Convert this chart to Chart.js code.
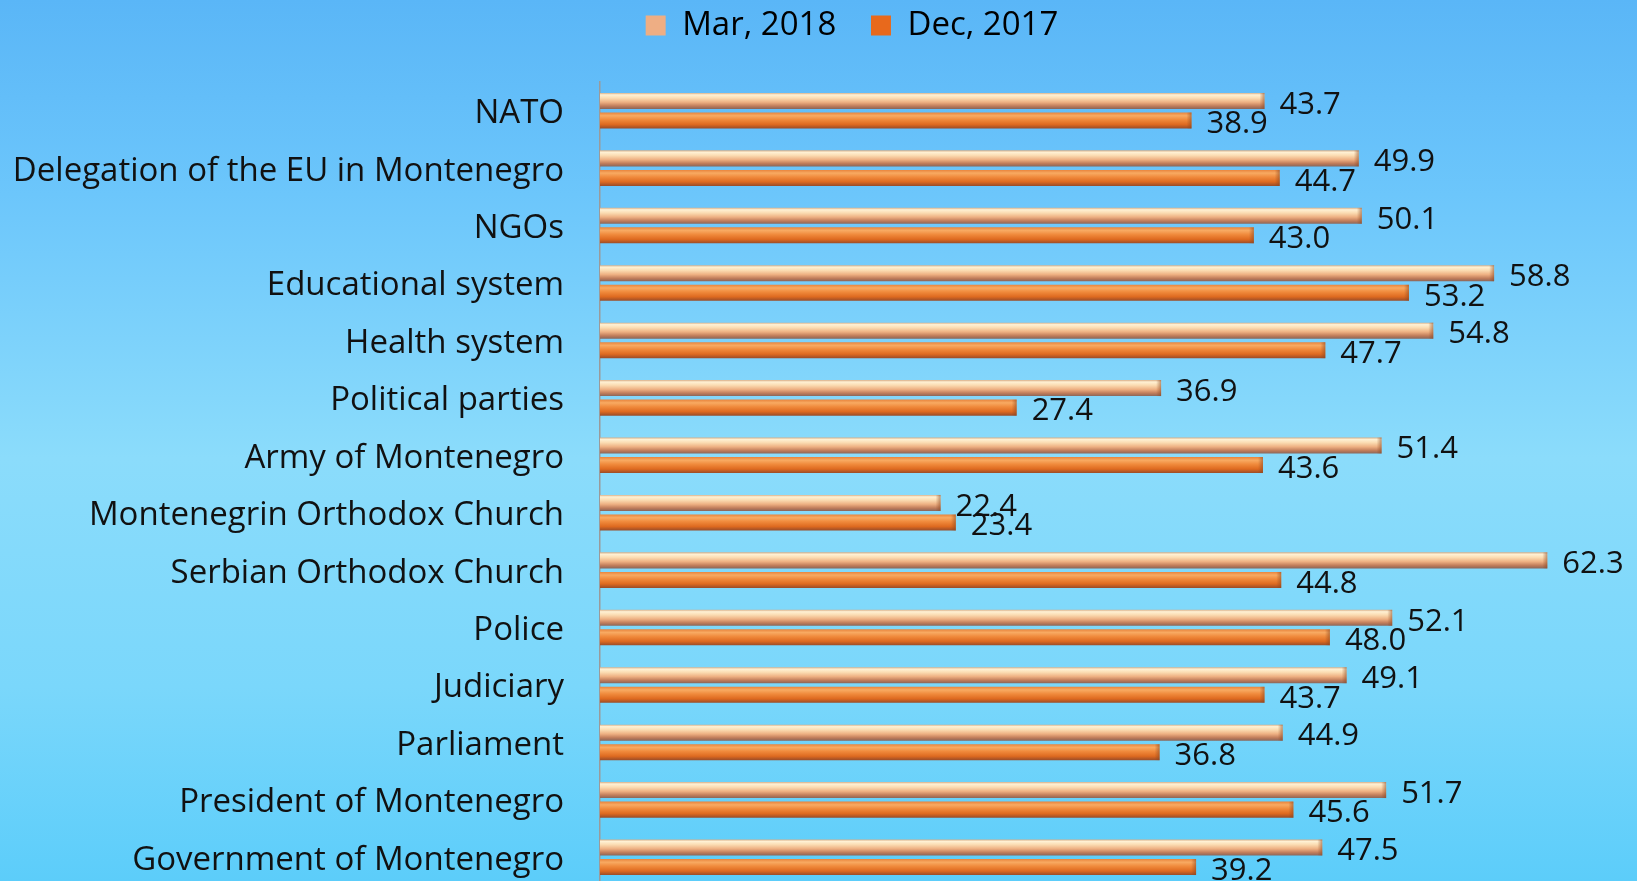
<!DOCTYPE html>
<html><head><meta charset="utf-8">
<script src="https://cdn.jsdelivr.net/npm/chart.js@4/dist/chart.umd.min.js"></script>
<style>
html,body{margin:0;padding:0;width:1637px;height:881px;overflow:hidden;}
body{background:linear-gradient(to bottom,#5ab6f7 0%,#6cc6fb 22%,#8bdcfb 52%,#7ad7fb 78%,#5ccdfa 100%);}
#c{position:absolute;left:0;top:0;width:1637px;height:892px;}
</style></head><body><canvas id="c" width="1637" height="892"></canvas>
<script>
const categories = ["NATO","Delegation of the EU in Montenegro","NGOs","Educational system","Health system","Political parties","Army of Montenegro","Montenegrin Orthodox Church","Serbian Orthodox Church","Police","Judiciary","Parliament","President of Montenegro","Government of Montenegro"];
const mar2018 = [43.7,49.9,50.1,58.8,54.8,36.9,51.4,22.4,62.3,52.1,49.1,44.9,51.7,47.5];
const dec2017 = [38.9,44.7,43.0,53.2,47.7,27.4,43.6,23.4,44.8,48.0,43.7,36.8,45.6,39.2];
const seriesNames = ["Mar, 2018","Dec, 2017"];

const CP = 0.68, BP = 0.82;
const marStops = [[0,'#d9b08a'],[0.12,'#fff1d4'],[0.32,'#fbdcb2'],[0.58,'#eeb082'],[0.82,'#c07c5a'],[1,'#8a665a']];
const decStops = [[0,'#e8843c'],[0.2,'#f8aa62'],[0.45,'#f08a3c'],[0.75,'#de6a20'],[1,'#9a4c28']];

function barGrad(stops, dsIndex){
  return function(ctx){
    const chart = ctx.chart;
    const ys = chart.scales && chart.scales.y;
    if (ctx.type !== 'data' || !ys) return stops[2][1];
    const p0 = ys.getPixelForValue(0), p1 = ys.getPixelForValue(1);
    if (!isFinite(p0) || !isFinite(p1)) return stops[2][1];
    const pitch = p1 - p0;
    const chunk = pitch * CP / 2;
    const c = ys.getPixelForValue(ctx.dataIndex) + (dsIndex - 0.5) * chunk;
    const h = chunk * BP;
    const g = chart.ctx.createLinearGradient(0, c - h/2, 0, c + h/2);
    stops.forEach(s => g.addColorStop(s[0], s[1]));
    return g;
  };
}

const barCaps = {
  id: 'barCaps',
  afterDatasetsDraw(chart){
    const ctx = chart.ctx;
    ctx.save();
    chart.data.datasets.forEach((ds, i) => {
      chart.getDatasetMeta(i).data.forEach((el) => {
        const h = el.height, top = el.y - h/2;
        const g = ctx.createLinearGradient(el.x - 5, 0, el.x, 0);
        g.addColorStop(0, 'rgba(140,70,30,0)');
        g.addColorStop(1, 'rgba(140,70,30,0.55)');
        ctx.fillStyle = g;
        ctx.fillRect(el.x - 5, top, 5, h);
      });
    });
    ctx.restore();
  }
};

const valueLabels = {
  id: 'valueLabels',
  afterDatasetsDraw(chart){
    const ctx = chart.ctx;
    ctx.save();
    ctx.font = '31px "Open Sans"';
    ctx.fillStyle = '#111';
    ctx.textBaseline = 'middle';
    ctx.textAlign = 'left';
    chart.data.datasets.forEach((ds, i) => {
      chart.getDatasetMeta(i).data.forEach((el, j) => {
        ctx.fillText(ds.data[j].toFixed(1), el.x + 15, el.y + 4);
      });
    });
    ctx.restore();
  }
};

const legendSpace = {
  id: 'legendSpace',
  beforeInit(chart){
    const lg = chart.legend;
    if (!lg) return;
    const orig = lg.fit;
    lg.fit = function(){ orig.call(this); this.height = 82; };
  },
  afterLayout(chart){
    if (chart.legend) chart.legend.left = 70;
  }
};

new Chart(document.getElementById('c'), {
  type: 'bar',
  data: {
    labels: categories,
    datasets: [
      { label: seriesNames[0], data: mar2018, backgroundColor: barGrad(marStops, 0), borderWidth: 0, categoryPercentage: CP, barPercentage: BP },
      { label: seriesNames[1], data: dec2017, backgroundColor: barGrad(decStops, 1), borderWidth: 0, categoryPercentage: CP, barPercentage: BP }
    ]
  },
  options: {
    indexAxis: 'y',
    responsive: false,
    animation: false,
    layout: { padding: { left: 0, right: 3, top: 0, bottom: 6 } },
    plugins: {
      tooltip: { enabled: false },
      legend: {
        position: 'top',
        align: 'center',
        labels: {
          font: { family: 'Open Sans', size: 33 },
          color: '#111',
          boxWidth: 20,
          boxHeight: 20,
          padding: 9,
          generateLabels: () => [
            { text: seriesNames[0] + '   ', fillStyle: '#eeae84', strokeStyle: 'rgba(0,0,0,0)', lineWidth: 0, datasetIndex: 0 },
            { text: seriesNames[1], fillStyle: '#e8691c', strokeStyle: 'rgba(0,0,0,0)', lineWidth: 0, datasetIndex: 1 }
          ]
        }
      }
    },
    scales: {
      x: { display: false, min: 0, max: 68 },
      y: {
        afterFit: (s) => { s.width = 600; s.paddingTop = 0; s.paddingBottom = 0; },
        grid: { display: false, drawTicks: false, tickLength: 0 },
        border: { display: true, color: '#9a9a9a', width: 1.5 },
        ticks: { font: { family: 'Open Sans', size: 33 }, color: '#111', padding: 36, labelOffset: 3 }
      }
    }
  },
  plugins: [barCaps, valueLabels, legendSpace]
});
</script>
</body></html>
